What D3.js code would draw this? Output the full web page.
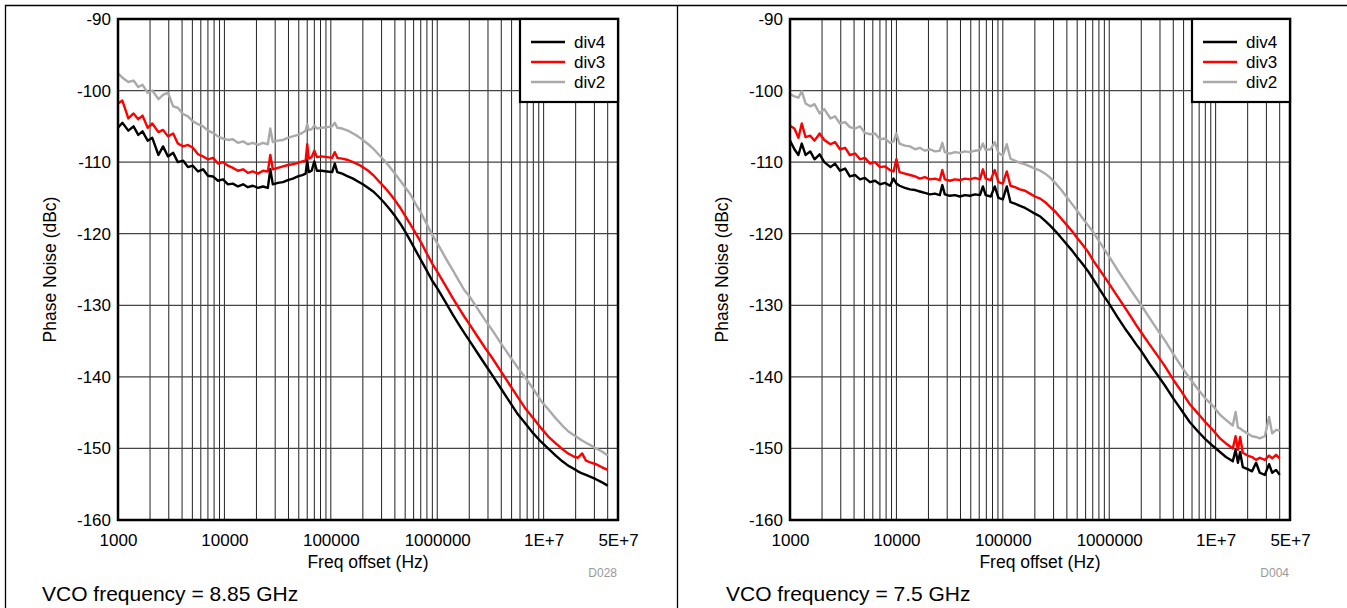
<!DOCTYPE html>
<html>
<head>
<meta charset="utf-8">
<script src="https://cdn.jsdelivr.net/npm/d3@7"></script>
<style>
  html, body { margin: 0; padding: 0; background: #fff; }
  svg { display: block; font-family: "Liberation Sans", Arial, Helvetica, sans-serif; }
</style>
</head>
<body>
<div id="chart"></div>
<script>
// ---- data ----
const xTickValues = [1e3, 1e4, 1e5, 1e6, 1e7, 5e7];
const xTickLabels = ['1000', '10000', '100000', '1000000', '1E+7', '5E+7'];
const yTickValues = [-160, -150, -140, -130, -120, -110, -100, -90];
const seriesNames = ['div4', 'div3', 'div2'];
const seriesColors = ['#000000', '#ff0000', '#aaaaaa'];

// left panel: VCO 8.85 GHz
const freqL = [1000, 1100, 1250, 1400, 1550, 1700, 1900, 2100, 2400, 2650,
  2950, 3300, 3650, 4100, 4550, 5050, 5650, 6300, 7000, 7800,
  8700, 9700, 10800, 12000, 13400, 15000, 16600, 18500, 20700, 23000,
  25600, 27000, 28500, 31800, 35500, 39500, 44000, 49000, 54000, 58000,
  60000, 62000, 66000, 70000, 74000, 82000, 92000, 103000, 109000, 115000,
  128000, 145000, 162000, 180000, 200000, 225000, 250000, 280000, 315000, 355000,
  400000, 450000, 500000, 560000, 630000, 710000, 800000, 900000, 1000000, 1200000,
  1400000, 1600000, 1800000, 2000000, 2400000, 2800000, 3300000, 4000000, 4800000, 5700000,
  6800000, 8000000, 9500000, 11000000, 13000000, 15000000, 17000000, 19000000, 21000000, 23000000,
  25000000, 28000000, 31000000, 35000000, 40000000];
const div4L = [-105.2, -104.5, -105.6, -105.0, -106.2, -105.7, -107.0, -106.6, -109.0, -107.8,
  -109.2, -108.7, -110.0, -109.8, -110.7, -110.5, -111.3, -111.0, -111.9, -112.0,
  -112.6, -112.4, -113.1, -113.0, -113.4, -113.1, -113.5, -113.3, -113.6, -113.4,
  -113.6, -111.0, -113.1, -112.9, -112.8, -112.5, -112.3, -112.0, -111.8, -111.6,
  -109.8, -111.4, -111.2, -109.9, -111.2, -111.2, -111.3, -111.4, -110.2, -111.4,
  -111.6, -112.0, -112.3, -112.7, -113.1, -113.6, -114.1, -114.8, -115.6, -116.5,
  -117.5, -118.6, -119.7, -121.0, -122.4, -123.8, -125.2, -126.6, -127.6, -129.6,
  -131.3, -132.7, -133.9, -134.9, -136.7, -138.2, -139.8, -141.7, -143.5, -145.2,
  -146.6, -147.9, -149.1, -150.0, -151.0, -151.8, -152.4, -152.8, -153.2, -153.5,
  -153.7, -154.0, -154.3, -154.7, -155.2];
const div3L = [-101.8, -101.4, -103.9, -103.2, -104.0, -103.5, -105.2, -104.6, -105.8, -105.5,
  -106.4, -106.0, -107.4, -107.8, -107.6, -108.0, -108.9, -109.2, -109.6, -109.4,
  -110.2, -110.0, -110.5, -110.8, -111.2, -111.0, -111.5, -111.3, -111.6, -111.2,
  -111.3, -109.0, -111.0, -110.8, -110.6, -110.4, -110.3, -110.1, -109.9, -109.8,
  -107.5, -109.5, -109.3, -108.4, -109.3, -109.2, -109.3, -109.4, -108.6, -109.4,
  -109.5, -109.7, -110.0, -110.3, -110.7, -111.2, -111.8, -112.6, -113.4, -114.3,
  -115.3, -116.4, -117.5, -118.7, -120.0, -121.3, -122.8, -124.2, -125.3, -127.3,
  -129.0, -130.4, -131.6, -132.6, -134.4, -135.9, -137.4, -139.3, -141.1, -142.8,
  -144.5, -145.8, -147.2, -148.3, -149.3, -150.1, -150.7, -151.1, -151.3, -150.7,
  -151.7, -152.0, -152.2, -152.6, -153.0];
const div2L = [-97.6, -98.2, -98.8, -98.6, -99.5, -99.2, -100.3, -100.0, -101.2, -100.6,
  -100.3, -102.2, -102.4, -103.3, -103.6, -104.3, -104.7, -105.0, -105.6, -105.9,
  -106.4, -106.7, -106.9, -106.8, -107.3, -107.1, -107.5, -107.3, -107.6, -107.3,
  -107.5, -105.3, -107.2, -107.0, -106.9, -106.6, -106.4, -106.2, -105.9, -105.6,
  -104.7, -105.5, -105.4, -104.9, -105.3, -105.2, -105.1, -105.0, -104.5, -105.2,
  -105.3, -105.6, -106.0, -106.4, -106.9, -107.5, -108.1, -108.9, -109.7, -110.6,
  -111.6, -112.6, -113.5, -114.5, -115.9, -117.2, -118.7, -120.2, -121.3, -123.4,
  -125.1, -126.6, -127.9, -128.7, -130.5, -132.0, -133.5, -135.4, -137.1, -138.7,
  -140.2, -141.7, -143.4, -144.5, -145.8, -146.8, -147.6, -148.1, -148.5, -148.9,
  -149.2, -149.6, -150.0, -150.4, -151.0];

// right panel: VCO 7.5 GHz
const freqR = [1000, 1100, 1200, 1290, 1400, 1550, 1700, 1900, 2100, 2400,
  2650, 2950, 3300, 3650, 4100, 4550, 5050, 5650, 6300, 7000,
  7800, 8700, 9400, 10000, 10700, 12000, 13400, 15000, 16600, 18500,
  20700, 23000, 25600, 27000, 28500, 31800, 35500, 39500, 44000, 49000,
  55000, 61000, 65000, 69000, 77000, 84000, 91000, 100000, 109000, 118000,
  130000, 145000, 162000, 180000, 200000, 225000, 250000, 280000, 315000, 355000,
  400000, 450000, 500000, 560000, 630000, 710000, 800000, 900000, 1000000, 1200000,
  1400000, 1600000, 1800000, 2000000, 2400000, 2800000, 3300000, 4000000, 4800000, 5700000,
  6800000, 8000000, 9500000, 11000000, 12500000, 14500000, 15400000, 16200000, 17000000, 18000000,
  20000000, 22000000, 24000000, 26000000, 29000000, 31800000, 34000000, 37000000, 40000000];
const div4R = [-107.0, -108.2, -109.0, -107.4, -109.0, -108.5, -109.6, -108.9, -110.0, -110.7,
  -110.2, -111.2, -110.9, -112.0, -111.8, -112.4, -112.2, -112.8, -112.6, -113.1,
  -112.9, -113.3, -112.3, -113.0, -113.3, -113.6, -113.8, -113.9, -114.1, -114.3,
  -114.5, -114.4, -114.6, -113.2, -114.5, -114.7, -114.6, -114.8, -114.6, -114.7,
  -114.5, -114.6, -113.4, -114.6, -114.8, -113.4, -115.0, -115.2, -113.4, -115.6,
  -115.8, -116.1, -116.4, -116.8, -117.2, -117.6, -118.2, -118.9, -119.7, -120.6,
  -121.5, -122.4, -123.3, -124.2, -125.2, -126.4, -127.6, -128.8, -129.8, -131.7,
  -133.2, -134.4, -135.5, -136.4, -138.2, -139.6, -141.1, -143.0, -144.7, -146.3,
  -147.6, -148.7, -149.7, -150.5, -151.2, -151.8, -150.2, -152.0, -150.5, -152.6,
  -152.9, -153.2, -152.0, -153.4, -153.7, -152.2, -153.4, -153.0, -153.7];
const div3R = [-104.9, -105.3, -106.6, -104.6, -106.5, -106.3, -107.0, -106.0, -106.9, -107.5,
  -107.2, -108.2, -108.0, -109.0, -108.8, -109.6, -109.4, -110.2, -110.0, -110.7,
  -110.6, -111.1, -111.3, -109.6, -111.4, -111.6, -111.8, -112.0, -112.3, -112.1,
  -112.4, -112.3, -112.5, -111.1, -112.4, -112.6, -112.4, -112.5, -112.3, -112.4,
  -112.2, -112.4, -111.0, -112.3, -112.5, -111.1, -112.8, -113.0, -111.3, -113.3,
  -113.5, -113.8, -114.0, -114.4, -114.8, -115.1, -115.6, -116.3, -117.0, -117.9,
  -118.8, -119.7, -120.6, -121.5, -122.5, -123.8, -124.9, -126.0, -127.0, -128.8,
  -130.3, -131.6, -132.8, -133.8, -135.5, -136.9, -138.4, -140.4, -142.1, -143.8,
  -145.1, -146.3, -147.5, -148.6, -149.3, -150.0, -148.3, -150.2, -148.4, -150.6,
  -151.0, -151.2, -151.6, -151.3, -151.6, -151.0, -151.4, -150.9, -151.4];
const div2R = [-100.5, -100.8, -101.0, -100.1, -101.8, -102.2, -101.9, -103.2, -102.6, -103.9,
  -103.6, -104.6, -104.4, -105.1, -105.3, -105.0, -105.9, -106.1, -106.0, -106.8,
  -106.7, -107.3, -107.1, -106.0, -107.4, -107.7, -107.8, -108.2, -108.0, -108.4,
  -108.2, -108.5, -108.4, -107.3, -108.6, -108.8, -108.6, -108.7, -108.5, -108.6,
  -108.4, -108.3, -107.4, -108.3, -108.2, -107.2, -108.7, -109.1, -107.5, -109.5,
  -109.8, -110.1, -110.3, -110.6, -110.9, -111.2, -111.6, -112.2, -113.0, -113.9,
  -114.9, -115.9, -116.8, -117.8, -118.8, -119.8, -121.0, -122.2, -123.2, -125.1,
  -126.6, -127.9, -129.0, -130.0, -131.8, -133.3, -134.8, -136.8, -138.6, -140.2,
  -141.7, -143.0, -144.1, -145.3, -146.0, -146.8, -144.9, -147.1, -147.2, -147.5,
  -147.9, -148.3, -148.4, -148.6, -148.3, -145.6, -147.9, -147.4, -147.5];

const W = 1347, H = 608;
const plotW = 500, plotH = 501;

const svg = d3.select('#chart').append('svg')
  .attr('width', W)
  .attr('height', H);

// cell borders of the surrounding table
const frame = svg.append('g').attr('stroke', '#000').attr('stroke-width', 1.3);
frame.append('line').attr('x1', 5).attr('x2', W).attr('y1', 5.5).attr('y2', 5.5);
frame.append('line').attr('x1', 5.5).attr('x2', 5.5).attr('y1', 5).attr('y2', H);
frame.append('line').attr('x1', 677.5).attr('x2', 677.5).attr('y1', 5).attr('y2', H);

function drawPanel(left, top, freq, series, code, vcoText, vcoX) {
  const g = svg.append('g').attr('transform', `translate(${left},${top})`);

  const x = d3.scaleLog().domain([1e3, 5e7]).range([0, plotW]);
  const y = d3.scaleLinear().domain([-160, -90]).range([plotH, 0]);

  // vertical grid (1..9 per decade)
  g.append('g').selectAll('line')
    .data(x.ticks().filter(d => d > 1e3 && d < 5e7))
    .join('line')
    .attr('x1', d => x(d)).attr('x2', d => x(d))
    .attr('y1', 0).attr('y2', plotH)
    .attr('stroke', '#222').attr('stroke-width', 1);

  // horizontal grid
  g.append('g').selectAll('line')
    .data(yTickValues.filter(d => d > -160 && d < -90))
    .join('line')
    .attr('x1', 0).attr('x2', plotW)
    .attr('y1', d => y(d)).attr('y2', d => y(d))
    .attr('stroke', '#444').attr('stroke-width', 1.2);

  // curves, drawn div2 first so black sits on top
  const line = d3.line()
    .x((d, i) => x(freq[i]))
    .y(d => y(d));
  [2, 1, 0].forEach(k => {
    g.append('path')
      .datum(series[k])
      .attr('d', line)
      .attr('fill', 'none')
      .attr('stroke', seriesColors[k])
      .attr('stroke-width', 2.4)
      .attr('stroke-linejoin', 'round');
  });

  // plot frame
  g.append('rect')
    .attr('x', 0).attr('y', 0)
    .attr('width', plotW).attr('height', plotH)
    .attr('fill', 'none').attr('stroke', '#000').attr('stroke-width', 2.5);

  // axes (labels only)
  const xAxis = g.append('g')
    .attr('transform', `translate(0,${plotH})`)
    .call(d3.axisBottom(x).tickValues(xTickValues)
      .tickFormat((d, i) => xTickLabels[i]).tickSize(0).tickPadding(14));
  xAxis.select('.domain').remove();
  xAxis.selectAll('text').attr('font-size', 17).attr('fill', '#000')
    .attr('font-family', '"Liberation Sans", Arial, sans-serif');

  const yAxis = g.append('g')
    .call(d3.axisLeft(y).tickValues(yTickValues)
      .tickFormat(d => String(d)).tickSize(0).tickPadding(7));
  yAxis.select('.domain').remove();
  yAxis.selectAll('text').attr('font-size', 17).attr('fill', '#000')
    .attr('font-family', '"Liberation Sans", Arial, sans-serif');

  // axis titles
  g.append('text')
    .attr('x', plotW / 2).attr('y', 549)
    .attr('text-anchor', 'middle')
    .attr('font-size', 17.5)
    .text('Freq offset (Hz)');

  g.append('text')
    .attr('transform', `translate(-62,${plotH / 2}) rotate(-90)`)
    .attr('text-anchor', 'middle')
    .attr('font-size', 17.5)
    .text('Phase Noise (dBc)');

  g.append('text')
    .attr('x', plotW - 1).attr('y', 558)
    .attr('text-anchor', 'end')
    .attr('font-size', 12)
    .attr('fill', '#999')
    .text(code);

  // legend
  const lg = g.append('g').attr('transform', `translate(${plotW - 98},0)`);
  lg.append('rect')
    .attr('x', 0).attr('y', 0).attr('width', 98).attr('height', 83)
    .attr('fill', '#fff').attr('stroke', '#000').attr('stroke-width', 2.2);
  seriesNames.forEach((name, k) => {
    const ly = 23 + k * 20;
    lg.append('line')
      .attr('x1', 11).attr('x2', 45).attr('y1', ly).attr('y2', ly)
      .attr('stroke', seriesColors[k]).attr('stroke-width', 2.5);
    lg.append('text')
      .attr('x', 54).attr('y', ly + 6)
      .attr('font-size', 17)
      .text(name);
  });

  svg.append('text')
    .attr('x', vcoX).attr('y', 601)
    .attr('font-size', 21)
    .text(vcoText);
}

drawPanel(118, 19, freqL, [div4L, div3L, div2L], 'D028', 'VCO frequency = 8.85 GHz', 42);
drawPanel(790, 19, freqR, [div4R, div3R, div2R], 'D004', 'VCO frequency = 7.5 GHz', 726);
</script>
</body>
</html>
